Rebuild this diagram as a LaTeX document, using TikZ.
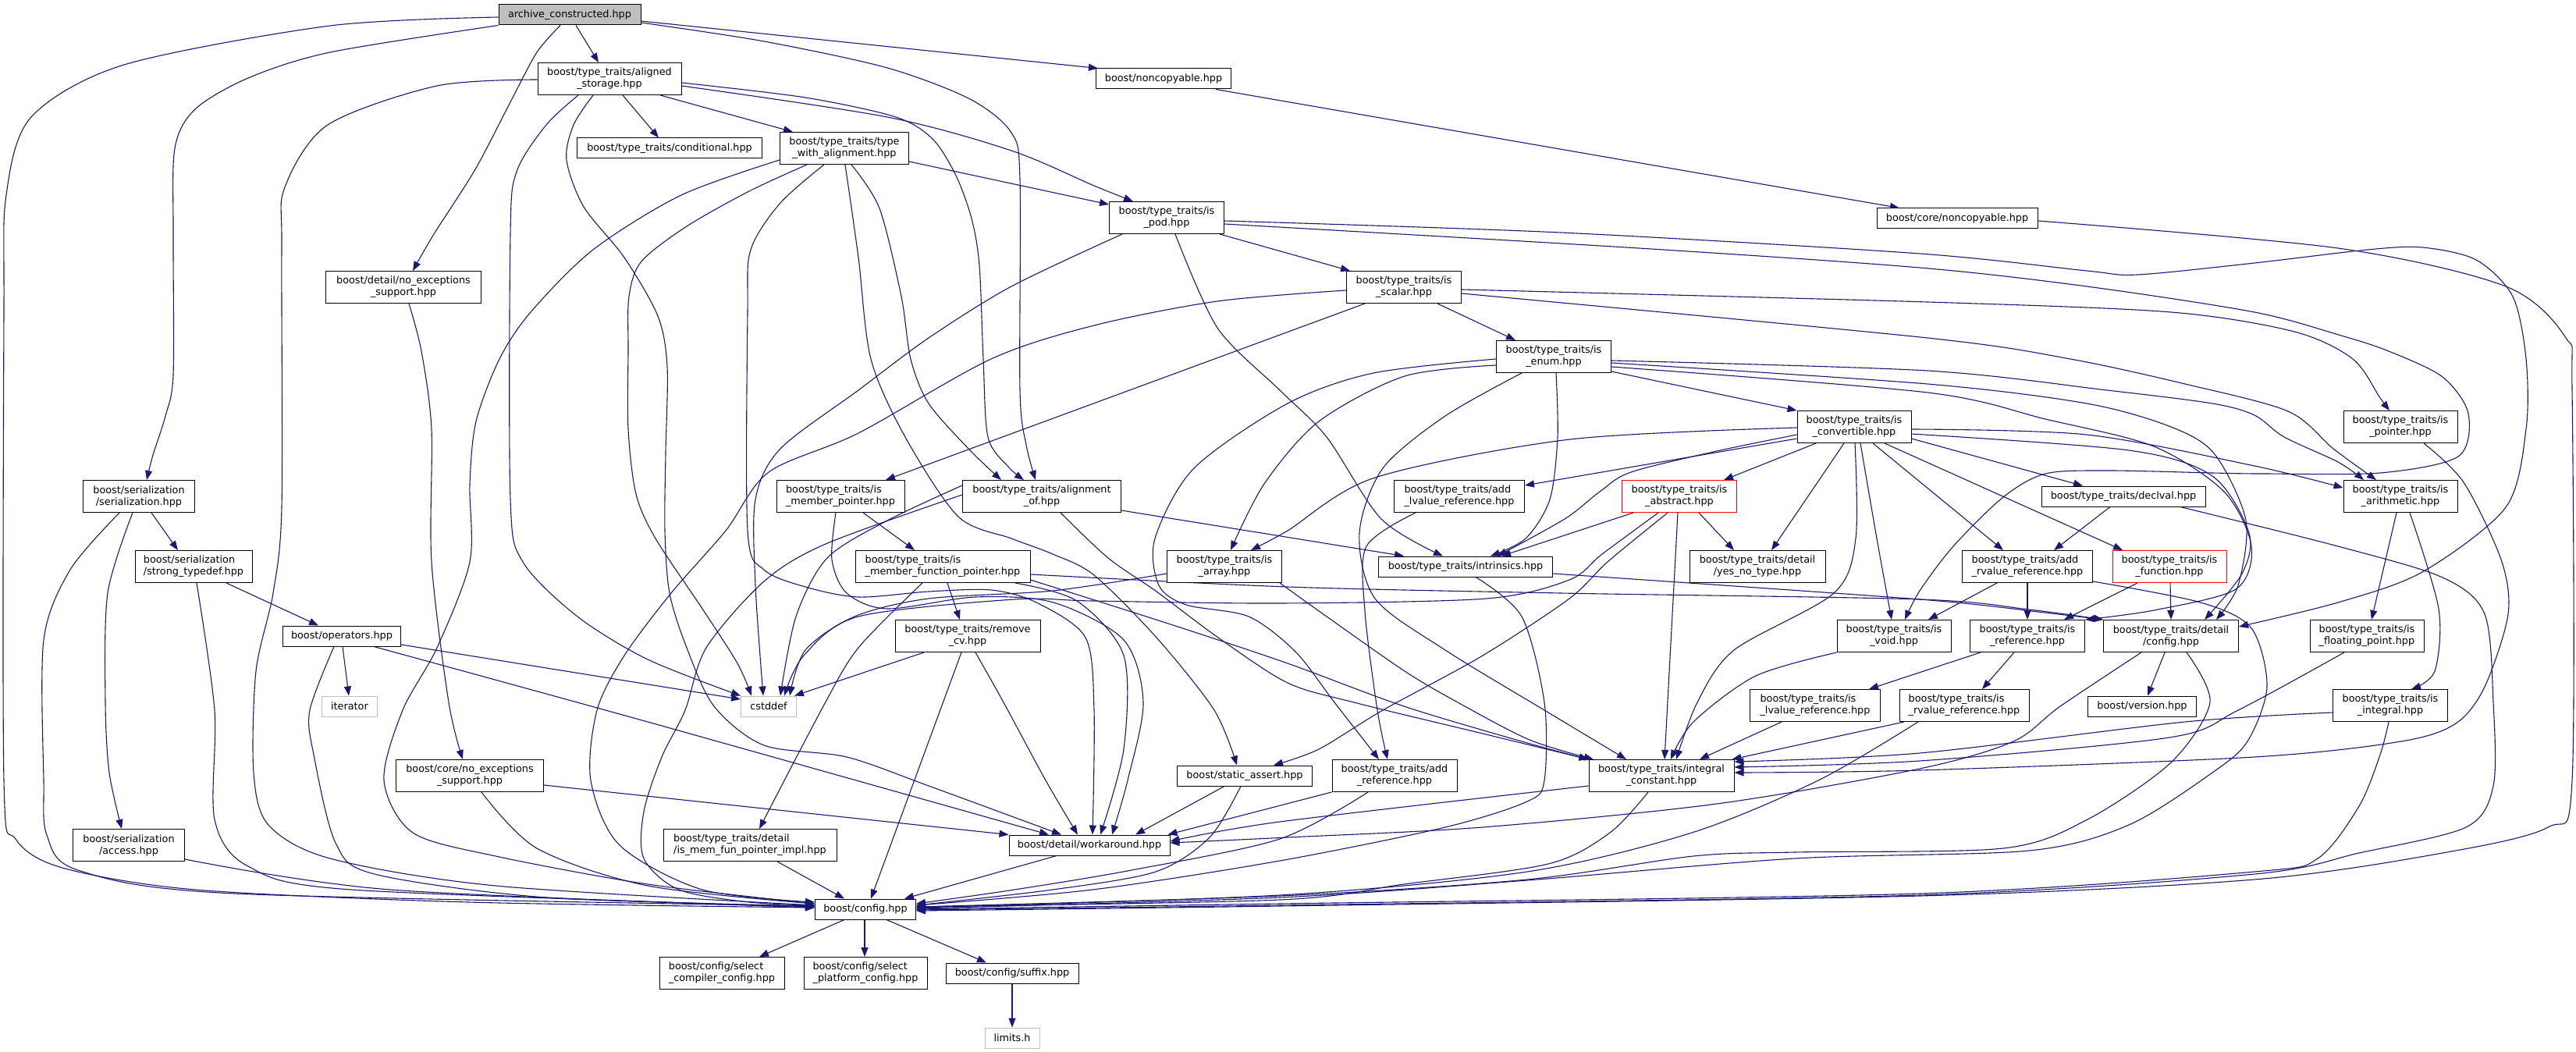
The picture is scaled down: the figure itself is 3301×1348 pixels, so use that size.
\documentclass[tikz,border=0pt]{standalone}
\usepackage{fontspec}
\setmainfont{DejaVu Sans}
\usetikzlibrary{arrows.meta}
\definecolor{edgec}{HTML}{191970}
\definecolor{grayfill}{HTML}{BFBFBF}
\pgfdeclarelayer{bg}
\pgfsetlayers{bg,main}
\tikzset{
  box/.style={draw=black, fill=white, line width=1pt, inner sep=0pt, align=center, font=\fontsize{12.8}{15}\selectfont},
  b1/.style={box, minimum height=26},
  b2/.style={box, minimum height=41},
  lb/.style={b2, align=left},
  gbx/.style={b1, draw=grayfill},
  rbx/.style={b2, draw=red},
  dep/.style={draw=edgec, line width=1.1pt, -{Triangle[length=12pt,width=9pt]}},
  sm/.style={smooth, tension=0.5},
}
\begin{document}
\begin{tikzpicture}[x=1pt,y=-1pt]
\useasboundingbox (0,0) rectangle (3301,1348);
% nodes
\node[b1, fill=grayfill, minimum width=182] (archive) at (730,19) {archive\_constructed.hpp};
\node[b2, minimum width=184] (aligned) at (781,101) {boost/type\_traits/aligned\\\_storage.hpp};
\node[b1, minimum width=173] (noncopy) at (1491,101) {boost/noncopyable.hpp};
\node[b2, minimum width=199] (noexd) at (517,368) {boost/detail/no\_exceptions\\\_support.hpp};
\node[b1, minimum width=237] (cond) at (858,190) {boost/type\_traits/conditional.hpp};
\node[b2, minimum width=165] (twa) at (1082,190) {boost/type\_traits/type\\\_with\_alignment.hpp};
\node[b2, minimum width=147] (ispod) at (1495,279) {boost/type\_traits/is\\\_pod.hpp};
\node[b1, minimum width=206] (corenc) at (2508,280) {boost/core/noncopyable.hpp};
\node[b2, minimum width=147] (isscalar) at (1799,368) {boost/type\_traits/is\\\_scalar.hpp};
\node[b2, minimum width=147] (isenum) at (1991,457) {boost/type\_traits/is\\\_enum.hpp};
\node[b2, minimum width=143] (ser) at (178,636) {boost/serialization\\/serialization.hpp};
\node[lb, minimum width=150] (strong) at (248,726) {boost/serialization\\/strong\_typedef.hpp};
\node[b1, minimum width=151] (ops) at (438,815) {boost/operators.hpp};
\node[gbx, minimum width=71] (iter) at (448,905) {iterator};
\node[lb, minimum width=164] (ismp) at (1077,636) {boost/type\_traits/is\\\_member\_pointer.hpp};
\node[b2, minimum width=203] (alof) at (1335,636) {boost/type\_traits/alignment\\\_of.hpp};
\node[lb, minimum width=224] (ismfp) at (1208,726) {boost/type\_traits/is\\\_member\_function\_pointer.hpp};
\node[b2, minimum width=147] (isarr) at (1569,726) {boost/type\_traits/is\\\_array.hpp};
\node[b2, minimum width=186] (rcv) at (1240,815) {boost/type\_traits/remove\\\_cv.hpp};
\node[gbx, minimum width=71] (cstd) at (985,905) {cstddef};
\node[b2, minimum width=146] (isconv) at (2376,547) {boost/type\_traits/is\\\_convertible.hpp};
\node[lb, minimum width=167] (addl) at (1870,636) {boost/type\_traits/add\\\_lvalue\_reference.hpp};
\node[rbx, minimum width=147] (isabs) at (2152,636) {boost/type\_traits/is\\\_abstract.hpp};
\node[b1, minimum width=223] (intr) at (1878,726) {boost/type\_traits/intrinsics.hpp};
\node[b2, minimum width=174] (yesno) at (2252,726) {boost/type\_traits/detail\\/yes\_no\_type.hpp};
\node[b2, minimum width=146] (isvoid) at (2427,815) {boost/type\_traits/is\\\_void.hpp};
\node[lb, minimum width=167] (islref) at (2326,904) {boost/type\_traits/is\\\_lvalue\_reference.hpp};
\node[lb, minimum width=166] (isrref) at (2517,904) {boost/type\_traits/is\\\_rvalue\_reference.hpp};
\node[b2, minimum width=146] (isptr) at (3076,547) {boost/type\_traits/is\\\_pointer.hpp};
\node[b2, minimum width=146] (isarith) at (3076,636) {boost/type\_traits/is\\\_arithmetic.hpp};
\node[b1, minimum width=210] (declval) at (2721,636) {boost/type\_traits/declval.hpp};
\node[lb, minimum width=167] (addr) at (2598,726) {boost/type\_traits/add\\\_rvalue\_reference.hpp};
\node[rbx, minimum width=146] (isfun) at (2780,726) {boost/type\_traits/is\\\_function.hpp};
\node[b2, minimum width=147] (isref) at (2598,815) {boost/type\_traits/is\\\_reference.hpp};
\node[b2, minimum width=173] (ttcfg) at (2782,815) {boost/type\_traits/detail\\/config.hpp};
\node[lb, minimum width=146] (isfp) at (3033,815) {boost/type\_traits/is\\\_floating\_point.hpp};
\node[b1, minimum width=139] (version) at (2745,905) {boost/version.hpp};
\node[b2, minimum width=147] (isint) at (3063,904) {boost/type\_traits/is\\\_integral.hpp};
\node[b2, minimum width=143] (access) at (165,1083) {boost/serialization\\/access.hpp};
\node[b2, minimum width=189] (corenoex) at (602,994) {boost/core/no\_exceptions\\\_support.hpp};
\node[b1, minimum width=173] (sa) at (1595,994) {boost/static\_assert.hpp};
\node[b1, minimum width=206] (wa) at (1396,1083) {boost/detail/workaround.hpp};
\node[lb, minimum width=222] (mfpi) at (961,1083) {boost/type\_traits/detail\\/is\_mem\_fun\_pointer\_impl.hpp};
\node[b1, minimum width=129] (config) at (1109,1165) {boost/config.hpp};
\node[lb, minimum width=160] (selc) at (925,1247) {boost/config/select\\\_compiler\_config.hpp};
\node[lb, minimum width=158] (selp) at (1109,1247) {boost/config/select\\\_platform\_config.hpp};
\node[b1, minimum width=170] (suffix) at (1297,1247) {boost/config/suffix.hpp};
\node[gbx, minimum width=70] (limits) at (1297,1330) {limits.h};
\node[b2, minimum width=160] (addref) at (1787,994) {boost/type\_traits/add\\\_reference.hpp};
\node[b2, minimum width=186] (intc) at (2129,994) {boost/type\_traits/integral\\\_constant.hpp};

\begin{pgfonlayer}{bg}
\fill[white] (0,0) rectangle (3301,1348);
% archive
\draw[dep] plot[sm] coordinates {(archive.west |- 0,22) (423,33) (159,83) (40,150) (8,250) (5,400) (5,1000) (20,1075) (80,1112) (250,1140) (600,1156) (config.west |- 0,1163)};
\draw[dep] (archive.south -| 738,0) -- (aligned.north -| 767,0);
\draw[dep] (archive.east |- 0,27) -- ([xshift=3pt]noncopy.north west);
\draw[dep] plot[sm] coordinates {(archive.south west) (423,67) (318,100) (250,140) (224,190) (222,300) (222,480) (212,533) (196,583) (ser.north -| 188,0)};
\draw[dep] plot[sm] coordinates {(archive.south -| 718,0) (688,67) (656,127) (609,217) (556,300) (noexd.north -| 529,0)};
\draw[dep] plot[sm] coordinates {(archive.east |- 0,29) (979,53) (1137,87) (1243,127) (1296,170) (1307,230) (1307,500) (1315,570) (alof.north -| 1327,0)};
% aligned
\draw[dep] (aligned.south -| 798,0) -- (cond.north -| 844,0);
\draw[dep] (aligned.south -| 846,0) -- (twa.north -| 1016,0);
\draw[dep] plot[sm] coordinates {(aligned.east |- 0,110) (1137,150) (1296,193) (1402,238) (ispod.north -| 1452,0)};
\draw[dep] plot[sm] coordinates {(aligned.east |- 0,106) (1032,125) (1148,150) (1195,178) (1225,225) (1245,280) (1255,340) (1260,460) (1266,560) (1292,598) (alof.north -| 1312,0)};
\draw[dep] plot[sm] coordinates {(aligned.west |- 0,102) (560,110) (420,160) (365,240) (361,320) (361,650) (350,760) (328,860) (325,990) (344,1057) (423,1100) (635,1135) (config.west |- 0,1160)};
\draw[dep] plot[sm] coordinates {(aligned.south -| 741,0) (700,160) (662,220) (654,300) (654,640) (670,720) (740,790) (830,845) (cstd.north west)};
\draw[dep] plot[sm] coordinates {(aligned.south -| 760,0) (735,160) (726,205) (748,265) (800,330) (843,405) (855,470) (853,580) (852,680) (858,760) (880,830) (915,905) (979,955) (1085,970) (1190,1007) (wa.north -| 1360,0)};
% twa
\draw[dep] (twa.east |- 0,207) -- (ispod.west |- 0,262);
\draw[dep] plot[sm] coordinates {(twa.south -| 1091,0) (1127,267) (1155,380) (1167,460) (1190,517) (1243,577) (alof.north -| 1283,0)};
\draw[dep] plot[sm] coordinates {(twa.south -| 1083,0) (1100,330) (1116,460) (1160,560) (1228,662) (1296,690) (1349,710) (1402,737) (1482,817) (1556,910) (sa.north -| 1585,0)};
\draw[dep] plot[sm] coordinates {(twa.west |- 0,205) (873,250) (760,320) (680,400) (640,460) (610,540) (602,620) (602,720) (560,830) (516,910) (492,1000) (529,1067) (635,1097) (830,1133) (config.west |- 0,1158)};
\draw[dep] plot[sm] coordinates {(twa.south -| 1034,0) (960,245) (880,290) (822,335) (806,380) (805,450) (805,550) (815,633) (840,690) (900,780) (945,850) (cstd.north -| 963,0)};
\draw[dep] plot[sm] coordinates {(twa.south -| 1056,0) (1000,260) (962,320) (958,400) (958,680) (979,730) (1032,752) (1100,765) (1190,758) (1270,756) (1328,772) (1391,817) (1402,910) (wa.north -| 1400,0)};
% alof
\draw[dep] (alof.east |- 0,654) -- (intr.north -| 1799,0);
\draw[dep] plot[sm] coordinates {(alof.south -| 1359,0) (1420,715) (1482,758) (1561,817) (1650,875) (1735,900) (1900,940) (intc.north west)};
\draw[dep] plot[sm] coordinates {(alof.west |- 0,634) (1058,697) (979,745) (905,830) (878,910) (848,970) (825,1040) (825,1100) (870,1140) (960,1156) (config.west |- 0,1160)};
\draw[dep] plot[sm] coordinates {(alof.west |- 0,622) (1137,667) (1060,715) (1020,790) (cstd.north -| 1000,0)};
% ispod
\draw[dep] plot[sm] coordinates {(ispod.south -| 1438,0) (1296,367) (1190,433) (1100,500) (1000,575) (968,640) (968,750) (cstd.north -| 978,0)};
\draw[dep] plot[sm] coordinates {(ispod.south -| 1506,0) (1560,420) (1640,500) (1700,560) (1770,665) (intr.north -| 1849,0)};
\draw[dep] (ispod.south -| 1563,0) -- ([xshift=5pt]isscalar.north west);
\draw[dep] plot[sm] coordinates {(ispod.east |- 0,283) (2000,298) (2460,325) (2674,347) (2739,352) (2889,337) (3034,320) (3104,317) (3173,333) (3220,380) (3237,460) (3237,550) (3211,650) (3104,733) (2996,772) (ttcfg.east |- 0,803)};
\draw[dep] plot[sm] coordinates {(ispod.east |- 0,287) (2100,318) (2460,343) (2674,367) (2889,400) (3000,430) (3061,450) (3130,483) (3163,530) (3150,585) (3050,606) (2900,607) (2835,606) (2701,603) (2621,607) (2567,637) (2503,700) (2460,757) (isvoid.north -| 2441,0)};
% isscalar
\draw[dep] (isscalar.south -| 1842,0) -- (isenum.north -| 1942,0);
\draw[dep] plot[sm] coordinates {(isscalar.east |- 0,371) (2470,387) (2782,400) (2940,425) (3015,460) (3050,510) (isptr.north -| 3062,0)};
\draw[dep] plot[sm] coordinates {(isscalar.east |- 0,376) (2470,433) (2653,460) (2800,492) (2932,527) (2990,575) (isarith.north -| 3045,0)};
\draw[dep] (isscalar.south -| 1749,0) -- (ismp.north -| 1135,0);
\draw[dep] plot[sm] coordinates {(isscalar.west |- 0,372) (1560,386) (1402,417) (1270,460) (1100,555) (985,605) (930,680) (860,760) (800,840) (765,910) (757,1000) (794,1083) (900,1140) (config.west |- 0,1156)};
% isenum
\draw[dep] plot[sm] coordinates {(isenum.south -| 1994,0) (1996,560) (1986,640) (1955,690) (intr.north -| 1910,0)};
\draw[dep] plot[sm] coordinates {(isenum.south -| 1950,0) (1852,533) (1772,600) (1742,683) (1762,767) (1852,833) (1979,910) (intc.north -| 2084,0)};
\draw[dep] plot[sm] coordinates {(isenum.west |- 0,468) (1800,482) (1690,540) (1620,620) (isarr.north -| 1577,0)};
\draw[dep] plot[sm] coordinates {(isenum.west |- 0,460) (1760,478) (1650,517) (1530,600) (1480,690) (1485,750) (1520,775) (1600,790) (1660,835) (1710,900) (addref.north -| 1767,0)};
\draw[dep] (isenum.east |- 0,476) -- (isconv.north west);
\draw[dep] plot[sm] coordinates {(isenum.east |- 0,462) (2470,475) (2700,500) (2835,517) (2889,532) (2927,560) (2996,592) (isarith.north -| 3029,0)};
\draw[dep] plot[sm] coordinates {(isenum.east |- 0,465) (2470,492) (2674,517) (2782,547) (2838,582) (2878,667) (2868,750) (ttcfg.north -| 2840,0)};
\draw[dep] plot[sm] coordinates {(isenum.east |- 0,470) (2470,503) (2621,537) (2760,572) (2850,630) (2885,700) (2865,755) (2760,782) (isref.north east)};
% isconv
\draw[dep] (isconv.south -| 2327,0) -- (isabs.north -| 2209,0);
\draw[dep] (isconv.south -| 2363,0) -- (yesno.north -| 2270,0);
\draw[dep] plot[sm] coordinates {(isconv.south -| 2377,0) (2378,690) (2350,760) (2222,833) (2175,900) (intc.north -| 2148,0)};
\draw[dep] plot[sm] coordinates {(isconv.south -| 2384,0) (2405,690) (isvoid.north -| 2424,0)};
\draw[dep] (isconv.south -| 2400,0) -- (addr.north -| 2567,0);
\draw[dep] (isconv.south -| 2415,0) -- (isfun.north -| 2720,0);
\draw[dep] plot[sm] coordinates {(isconv.east |- 0,550) (2674,557) (2889,597) (isarith.west |- 0,625)};
\draw[dep] plot[sm] coordinates {(isconv.east |- 0,556) (2728,577) (2835,610) (2882,683) (2873,735) (ttcfg.north -| 2825,0)};
\draw[dep] (isconv.east |- 0,562) -- (declval.north -| 2669,0);
\draw[dep] (isconv.west |- 0,562) -- (addl.east |- 0,622);
\draw[dep] plot[sm] coordinates {(isconv.west |- 0,557) (2200,578) (2090,605) (2050,630) (2005,665) (intr.north -| 1919,0)};
\draw[dep] plot[sm] coordinates {(isconv.west |- 0,548) (2012,563) (1762,612) (1650,680) (isarr.north -| 1603,0)};
% isabs
\draw[dep] (isabs.south -| 2093,0) -- (intr.north -| 1924,0);
\draw[dep] plot[sm] coordinates {(isabs.south -| 2125,0) (2053,710) (2011,743) (1905,767) (1640,773) (1400,770) (1300,768) (1100,790) (1030,840) (cstd.north -| 1005,0)};
\draw[dep] plot[sm] coordinates {(isabs.south -| 2137,0) (2060,720) (2011,767) (1900,840) (1772,910) (1690,960) (sa.north -| 1632,0)};
\draw[dep] (isabs.south -| 2150,0) -- (intc.north -| 2133,0);
\draw[dep] (isabs.south -| 2177,0) -- (yesno.north -| 2222,0);
% ismp
\draw[dep] (ismp.south -| 1106,0) -- (ismfp.north -| 1172,0);
\draw[dep] plot[sm] coordinates {(ismp.south -| 1071,0) (1066,717) (1085,760) (1137,780) (1250,765) (1350,772) (1440,820) (1465,900) (1445,1000) (wa.north -| 1425,0)};
% ismfp
\draw[dep] (ismfp.south -| 1214,0) -- (rcv.north -| 1230,0);
\draw[dep] plot[sm] coordinates {(ismfp.south -| 1182,0) (1100,830) (1055,905) (mfpi.north -| 973,0)};
\draw[dep] plot[sm] coordinates {(ismfp.south -| 1301,0) (1380,770) (1440,840) (1440,960) (wa.north -| 1410,0)};
\draw[dep] plot[sm] coordinates {(ismfp.east |- 0,736) (1650,752) (2000,760) (2460,768) (2600,781) (ttcfg.north west)};
\draw[dep] plot[sm] coordinates {(ismfp.east |- 0,743) (1500,800) (1650,850) (1799,905) (1950,950) (intc.north west)};
% isarr
\draw[dep] plot[sm] coordinates {(isarr.west |- 0,735) (1349,757) (1190,767) (1095,790) (1032,833) (cstd.north -| 1012,0)};
\draw[dep] plot[sm] coordinates {(isarr.south -| 1640,0) (1700,790) (1800,860) (1868,900) (1960,948) (intc.north -| 2042,0)};
% rcv
\draw[dep] (rcv.south -| 1184,0) -- ([xshift=-3pt]cstd.north east);
\draw[dep] (rcv.south -| 1232,0) -- (config.north -| 1116,0);
\draw[dep] plot[sm] coordinates {(rcv.south -| 1250,0) (1286,900) (1340,1000) (wa.north -| 1381,0)};
% intr
\draw[dep] plot[sm] coordinates {(intr.south -| 1891,0) (1950,790) (1979,900) (1979,1000) (1957,1027) (1852,1060) (1640,1103) (1400,1140) (config.east |- 0,1160)};
\draw[dep] plot[sm] coordinates {(intr.east |- 0,735) (2460,768) (2620,785) (ttcfg.north west)};
% addl
\draw[dep] plot[sm] coordinates {(addl.south -| 1814,0) (1751,700) (1749,783) (1765,910) (addref.north -| 1778,0)};
% isvoid, islref, isrref, isref
\draw[dep] plot[sm] coordinates {(isvoid.south west) (2250,866) (2170,925) (intc.north -| 2141,0)};
\draw[dep] (islref.south -| 2283,0) -- (intc.north -| 2178,0);
\draw[dep] (isrref.south -| 2440,0) -- ([xshift=-3pt]intc.north east);
\draw[dep] plot[sm] coordinates {(isrref.south -| 2458,0) (2330,1000) (2168,1067) (1957,1117) (1640,1147) (config.east |- 0,1163)};
\draw[dep] (isref.south -| 2538,0) -- (islref.north -| 2395,0);
\draw[dep] (isref.south -| 2581,0) -- (isrref.north -| 2540,0);
% ttcfg
\draw[dep] (ttcfg.south -| 2774,0) -- (version.north -| 2752,0);
\draw[dep] plot[sm] coordinates {(ttcfg.south -| 2744,0) (2640,905) (2580,950) (2460,985) (2200,1030) (1900,1060) (1650,1073) (wa.east |- 0,1080)};
\draw[dep] plot[sm] coordinates {(ttcfg.south -| 2802,0) (2832,900) (2782,977) (2675,1050) (2567,1087) (2300,1092) (2170,1097) (1957,1127) (1640,1148) (config.east |- 0,1162)};
% isfun
\draw[dep] (isfun.south -| 2739,0) -- (isref.north -| 2645,0);
\draw[dep] (isfun.south -| 2781,0) -- (ttcfg.north -| 2782,0);
% addr
\draw[dep] (addr.south -| 2559,0) -- (isvoid.north -| 2471,0);
\draw[dep] (addr.south -| 2598,0) -- (isref.north -| 2598,0);
\draw[dep] plot[sm] coordinates {(addr.east |- 0,745) (2820,772) (2885,805) (2905,880) (2880,950) (2835,990) (2728,1057) (2600,1090) (2300,1100) (1957,1128) (1640,1150) (config.east |- 0,1164)};
% declval
\draw[dep] (declval.south -| 2704,0) -- (addr.north -| 2632,0);
\draw[dep] plot[sm] coordinates {(declval.south -| 2794,0) (2996,700) (3130,740) (3184,787) (3195,900) (3195,1007) (3160,1060) (3023,1093) (2889,1120) (2460,1147) (1640,1160) (config.east |- 0,1166)};
% isptr, isarith, isfp, isint
\draw[dep] plot[sm] coordinates {(isptr.south -| 3106,0) (3157,618) (3205,717) (3214,787) (3184,880) (3147,927) (3077,950) (2889,970) (2460,987) (intc.east |- 0,990)};
\draw[dep] (isarith.south -| 3071,0) -- (isfp.north -| 3039,0);
\draw[dep] plot[sm] coordinates {(isarith.south -| 3088,0) (3125,780) (3120,860) (isint.north -| 3090,0)};
\draw[dep] plot[sm] coordinates {(isfp.south -| 3004,0) (2868,910) (2780,945) (2460,975) (intc.east |- 0,983)};
\draw[dep] plot[sm] coordinates {(isint.west |- 0,913) (2800,925) (2460,965) (intc.east |- 0,976)};
\draw[dep] plot[sm] coordinates {(isint.south -| 3061,0) (3050,967) (3023,1033) (2970,1100) (2889,1117) (2460,1145) (1640,1158) (config.east |- 0,1165)};
% corenc, noncopy
\draw[dep] plot[sm] coordinates {(corenc.east |- 0,283) (2996,318) (3211,367) (3288,433) (3296,500) (3296,1000) (3265,1060) (3130,1093) (2889,1127) (2460,1148) (1640,1161) (config.east |- 0,1167)};
\draw[dep] (noncopy.south -| 1558,0) -- (corenc.north -| 2434,0);
% intc
\draw[dep] plot[sm] coordinates {(intc.west |- 0,1007) (1640,1053) (wa.east |- 0,1078)};
\draw[dep] plot[sm] coordinates {(intc.south -| 2112,0) (2063,1067) (1984,1107) (1799,1133) (1640,1153) (config.east |- 0,1162)};
% sa, wa, mfpi
\draw[dep] (sa.south -| 1569,0) -- (wa.north -| 1455,0);
\draw[dep] plot[sm] coordinates {(sa.south -| 1590,0) (1550,1073) (1481,1117) (1349,1140) (config.east |- 0,1160)};
\draw[dep] (wa.south -| 1354,0) -- (config.north -| 1159,0);
\draw[dep] (mfpi.south -| 996,0) -- (config.north -| 1082,0);
% addref
\draw[dep] (addref.south west) -- ([xshift=-3pt]wa.north east);
\draw[dep] plot[sm] coordinates {(addref.south -| 1753,0) (1640,1075) (1450,1115) (1300,1140) (config.east |- 0,1158)};
% corenoex, noexd
\draw[dep] (corenoex.east |- 0,1006) -- (wa.north west);
\draw[dep] plot[sm] coordinates {(corenoex.south -| 617,0) (688,1087) (830,1135) (config.west |- 0,1158)};
\draw[dep] plot[sm] coordinates {(noexd.south -| 524,0) (540,450) (553,550) (553,720) (575,900) (corenoex.north -| 593,0)};
% ser, strong
\draw[dep] (ser.south -| 194,0) -- (strong.north -| 228,0);
\draw[dep] plot[sm] coordinates {(ser.south -| 170,0) (138,760) (135,900) (140,990) (access.north -| 156,0)};
\draw[dep] plot[sm] coordinates {(ser.south -| 153,0) (90,730) (56,820) (56,1000) (60,1070) (100,1115) (300,1145) (config.west |- 0,1161)};
\draw[dep] (strong.south -| 290,0) -- (ops.north -| 408,0);
\draw[dep] plot[sm] coordinates {(strong.south -| 252,0) (275,910) (275,1050) (318,1110) (450,1140) (config.west |- 0,1162)};
% ops
\draw[dep] (ops.south -| 439,0) -- (iter.north -| 447,0);
\draw[dep] plot[sm] coordinates {(ops.south -| 428,0) (397,910) (402,967) (430,1080) (480,1120) (700,1150) (config.west |- 0,1161)};
\draw[dep] plot[sm] coordinates {(ops.south -| 479,0) (830,925) (wa.north -| 1344,0)};
\draw[dep] (ops.east |- 0,826) -- (cstd.west |- 0,896);
% access
\draw[dep] plot[sm] coordinates {(access.east |- 0,1101) (500,1140) (config.west |- 0,1163)};
% config
\draw[dep] (config.south -| 1082,0) -- (selc.north -| 973,0);
\draw[dep] (config.south -| 1108,0) -- (selp.north -| 1108,0);
\draw[dep] (config.south -| 1136,0) -- (suffix.north -| 1264,0);
\draw[dep] (suffix) -- (limits);
\end{pgfonlayer}
\end{tikzpicture}
\end{document}
